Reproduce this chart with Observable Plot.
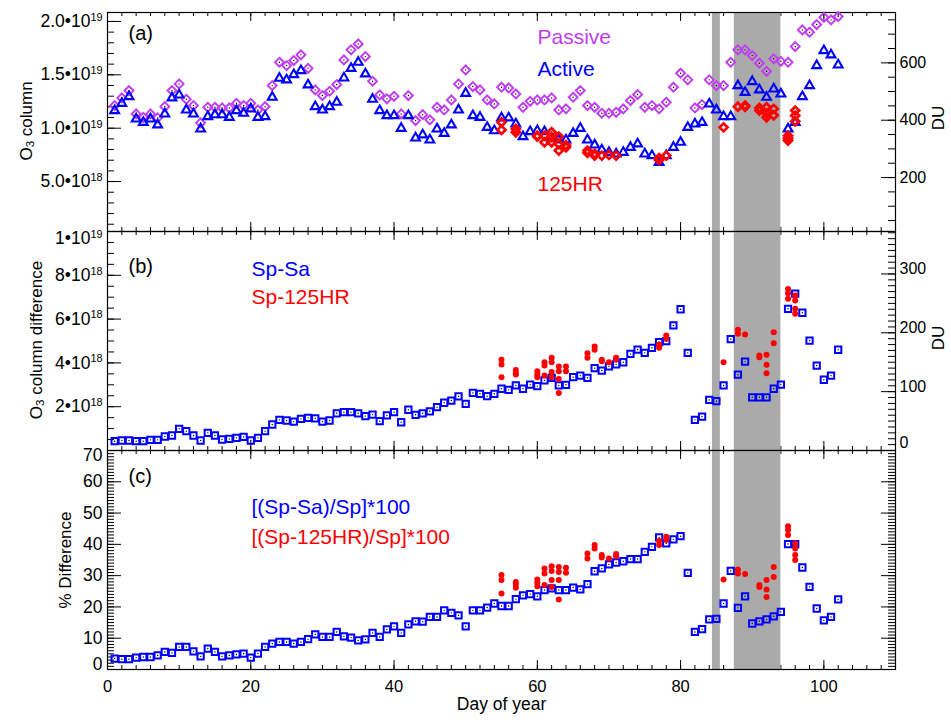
<!DOCTYPE html>
<html><head><meta charset="utf-8">
<script src="https://cdn.jsdelivr.net/npm/d3@7"></script>
<script src="https://cdn.jsdelivr.net/npm/@observablehq/plot@0.6"></script>
<style>
html,body{margin:0;padding:0;background:#fff;}
#chart{position:relative;width:951px;height:723px;overflow:hidden;background:#fff;}
#chart > svg{position:absolute;left:0;}
.ytitle{position:absolute;white-space:nowrap;font-family:'Liberation Sans',Arial,Helvetica,sans-serif;
  font-size:17px;line-height:1;color:#000;transform:translate(-50%,-50%) rotate(-90deg);transform-origin:50% 50%;}
.ytitle sub{font-size:68%;vertical-align:-0.22em;line-height:0;}
</style></head><body><div id="chart"></div>
<script>
// ---------- data ----------
const days = d3.range(1, 103); // day of year 1..102

// (a) O3 column, units of 1e19 molecules/cm2
const activeVals = [1.165,1.233,1.296,1.087,1.055,1.087,1.031,1.134,1.284,1.312,
 1.171,1.134,0.993,1.109,1.127,1.127,1.102,1.165,1.140,1.181,
 1.102,1.109,1.290,1.468,1.453,1.502,1.540,1.406,1.202,1.171,
 1.202,1.243,1.471,1.561,1.618,1.509,1.271,1.165,1.118,1.118,
 0.999,1.118,0.909,0.938,0.890,0.993,0.952,1.031,1.171,1.327,
 1.118,1.102,1.008,0.977,1.097,1.097,1.040,0.921,0.968,0.977,
 0.968,0.909,0.890,0.890,0.952,0.999,0.890,0.843,0.797,0.774,
 0.759,0.774,0.821,0.853,0.759,0.743,0.680,0.743,0.821,0.868,
 1.008,1.040,1.055,1.227,1.171,1.109,1.109,1.399,1.336,1.437,
 1.359,1.290,1.368,1.321,0.993,1.055,1.296,1.399,1.587,1.727,
 1.687,1.593];
const passiveVals = [1.212,1.284,1.352,1.134,1.102,1.134,1.097,1.202,1.352,1.415,
 1.271,1.212,1.050,1.196,1.196,1.190,1.190,1.233,1.212,1.233,
 1.171,1.202,1.399,1.618,1.587,1.634,1.687,1.561,1.359,1.306,
 1.346,1.409,1.640,1.734,1.790,1.671,1.440,1.312,1.275,1.299,
 1.134,1.306,1.071,1.127,1.078,1.196,1.171,1.265,1.415,1.546,
 1.390,1.359,1.265,1.227,1.384,1.377,1.321,1.196,1.252,1.265,
 1.265,1.284,1.171,1.181,1.290,1.352,1.212,1.196,1.140,1.140,
 1.149,1.181,1.259,1.315,1.196,1.212,1.181,1.243,1.384,1.515,
 1.453,1.190,1.221,1.453,1.399,1.399,1.618,1.734,1.734,1.680,
 1.609,1.533,1.650,1.627,1.618,1.765,1.921,1.899,1.971,2.039,
 2.015,2.046];
const hrDays = [55,55,57,57,60,60,61,61,62,62,62,63,63,63,64,64,67,67,68,68,69,70,71,77,77,78,
 86,88,89,89,91,91,92,92,92,93,93,95,95,95,96,96,96];
const hrVals = [1.055,0.984,0.993,0.962,0.921,0.930,0.868,0.930,0.962,0.915,0.868,0.921,0.852,0.790,0.821,0.840,
 0.790,0.770,0.743,0.760,0.743,0.750,0.743,0.703,0.720,0.743,
 1.008,1.202,1.212,1.200,1.190,1.165,1.196,1.140,1.102,1.181,1.121,0.930,0.884,0.905,1.165,1.118,1.065];

// (b) O3 column difference, units of 1e18
const spSaVals = [0.425,0.457,0.457,0.425,0.425,0.487,0.487,0.639,0.685,0.990,
 0.883,0.685,0.457,0.807,0.685,0.502,0.530,0.578,0.620,0.457,
 0.578,0.883,1.187,1.400,1.370,1.320,1.446,1.490,1.470,1.320,
 1.370,1.700,1.750,1.750,1.700,1.570,1.640,1.340,1.600,1.750,
 1.290,1.860,1.630,1.700,1.790,1.980,2.180,2.280,2.470,2.130,
 2.630,2.590,2.480,2.590,2.820,2.770,2.970,2.820,3.010,2.940,
 3.200,3.320,2.970,3.000,3.350,3.420,3.320,3.760,3.650,3.840,
 3.930,4.030,4.410,4.610,4.460,4.690,4.950,4.990,5.710,6.450,
 4.460,1.400,1.550,2.310,2.250,2.970,5.090,3.460,4.060,2.430,
 2.430,2.430,2.820,3.010,6.470,7.160,6.290,5.020,3.880,3.230,
 3.420,4.600];
const spHrDays = [55,55,55,57,57,57,60,60,60,61,61,61,62,62,62,62,63,63,63,63,64,64,67,67,68,68,69,69,70,71,71,77,77,78,78,
 86,88,88,89,91,91,92,92,92,93,93,95,95,95,96,96,96,96];
const spHrVals = [4.14,3.93,3.35,3.68,3.53,3.47,3.62,3.47,3.35,4.03,3.88,3.42,4.23,4.03,3.58,3.35,3.84,3.62,3.27,2.62,3.84,3.62,
 4.44,4.23,4.75,4.60,4.14,4.08,4.03,4.23,4.15,4.84,4.69,5.25,5.10,
 4.03,5.51,5.33,5.30,4.34,4.26,4.37,3.91,3.53,5.40,4.90,7.38,7.18,6.93,7.08,6.85,6.47,6.24];

// (c) % difference
const pctSaVals = [3.5,3.3,3.3,3.8,4.0,4.0,4.5,5.6,5.3,7.2,
 7.2,5.8,4.2,6.7,5.6,4.2,4.5,4.8,5.1,3.8,
 5.1,7.2,8.3,8.8,8.8,8.3,8.8,9.7,11.2,10.4,
 10.4,12.0,10.6,10.2,9.3,9.6,11.7,10.4,12.8,13.8,
 11.7,14.4,15.4,15.3,16.8,16.8,18.9,18.1,17.3,13.8,
 18.9,18.9,19.8,21.1,20.3,20.3,22.5,23.7,24.1,23.4,
 25.4,25.9,25.4,25.4,26.2,25.6,27.3,31.4,32.3,33.6,
 34.2,34.6,35.3,35.3,37.6,39.2,42.2,40.3,41.6,42.6,
 30.9,12.0,12.9,16.0,16.2,21.1,31.5,19.7,23.4,14.7,
 15.4,16.0,17.0,18.4,40.1,40.1,32.6,26.4,19.5,15.7,
 16.8,22.4];
const pctHrDays = spHrDays;
const pctHrVals = [30.2,28.6,24.3,28.0,27.0,26.1,28.8,27.7,26.6,32.3,30.7,27.0,33.0,31.5,28.6,26.4,32.8,31.2,28.6,22.4,32.5,30.9,
 37.1,35.5,39.8,38.7,36.6,35.8,35.5,36.9,36.2,41.1,39.8,42.4,41.4,
 28.8,32.0,30.7,30.5,27.0,26.4,28.6,25.6,23.2,32.8,29.6,45.8,44.6,43.0,40.3,38.7,36.6,35.0];

// shaded periods (day of year)
const bandStart = [84.45, 87.5];
const bandEnd = [85.55, 94.0];

// axis ticks and labels
const xTickVals = [0, 20, 40, 60, 80, 100];
const aTickVals = [0.5, 1.0, 1.5, 2.0];
const aTickLabels = ["5.0•10^18", "1.0•10^19", "1.5•10^19", "2.0•10^19"];
const bTickVals = [2, 4, 6, 8, 10];
const bTickLabels = ["2•10^18", "4•10^18", "6•10^18", "8•10^18", "1•10^19"];
const cTickVals = [0, 10, 20, 30, 40, 50, 60, 70];
const duTicksA = [200, 400, 600];
const duTicksB = [0, 100, 200, 300];

// ---------- tables ----------
const tableA = days.map((d, i) => ({day: d, active: activeVals[i], passive: passiveVals[i]}));
const tableHR = hrDays.map((d, i) => ({day: d, v: hrVals[i]}));
const tableB = days.map((d, i) => ({day: d, v: spSaVals[i]}));
const tableBHR = spHrDays.map((d, i) => ({day: d, v: spHrVals[i]}));
const tableC = days.map((d, i) => ({day: d, v: pctSaVals[i]}));
const tableCHR = pctHrDays.map((d, i) => ({day: d, v: pctHrVals[i]}));
const bands = bandStart.map((s, i) => ({start: s, end: bandEnd[i]}));

// ---------- layout ----------
const chart = document.getElementById("chart");
const FONT = "'Liberation Sans', Arial, Helvetica, sans-serif";
const W = 951, ML = 107, MR = 56, PW = W - ML - MR;
const PH = 219;
const BLUE = "#0000ff", PURPLE = "#c040f0", RED = "#ff0000", GREY = "#aaaaaa";
const DU_A = 2.687e16 / 1e19, DU_B = 2.687e16 / 1e18;
const xMinor = d3.range(2, 110, 2);
const style = {fontFamily: FONT, fontSize: "16.5px", color: "#000", background: "transparent", overflow: "visible"};
const LFS = 17.5, RFS = 16;

function frameTicks(yMajL, yMinL, yMajR, yMinR) {
  const k = {stroke: "#000", strokeWidth: 1};
  return [
    Plot.ruleX(xMinor, {x: d => d, insetBottom: PH - 4, ...k}),
    Plot.ruleX(xMinor, {x: d => d, insetTop: PH - 4, ...k}),
    Plot.ruleX(xTickVals, {x: d => d, insetBottom: PH - 9, ...k}),
    Plot.ruleX(xTickVals, {x: d => d, insetTop: PH - 9, ...k}),
    Plot.ruleY(yMinL, {y: d => d, insetRight: PW - 7, ...k}),
    Plot.ruleY(yMajL, {y: d => d, insetRight: PW - 14, ...k}),
    Plot.ruleY(yMinR, {y: d => d, insetLeft: PW - 7, ...k}),
    Plot.ruleY(yMajR, {y: d => d, insetLeft: PW - 14, ...k})
  ];
}
function label(txt, o) {
  return Plot.text([txt], {text: d => d, lineAnchor: "middle", ...o});
}
function leftAxis(vals, fmt, o = {}) {
  return Plot.axisY(vals, {anchor: "left", tickSize: 0, tickPadding: 5, label: null, fontSize: LFS, tickFormat: fmt, ...o});
}
function rightAxis(vals, fmt, o = {}) {
  return Plot.axisY(vals, {anchor: "right", tickSize: 0, tickPadding: 4, label: null, fontSize: RFS, tickFormat: fmt, ...o});
}

// superscripts "^NN" in the (right-aligned) left-axis tick labels, laid out explicitly
function richText(svg) {
  svg.querySelectorAll("text").forEach(t => {
    const s = t.textContent;
    if (!/\^\d/.test(s)) return;
    const parts = s.split(/(\^\d+)/).filter(p => p.length);
    while (t.firstChild) t.removeChild(t.firstChild);
    const spans = [];
    let shift = 0;
    for (const p of parts) {
      const ts = document.createElementNS("http://www.w3.org/2000/svg", "tspan");
      let target = 0, scale = 1, str = p;
      if (p[0] === "^") { target = -0.36; scale = 0.62; str = p.slice(1); }
      if (scale !== 1) ts.setAttribute("font-size", (scale * 100) + "%");
      const dyBase = target - shift;
      if (dyBase !== 0) ts.setAttribute("dy", (dyBase / scale) + "em");
      shift = target;
      ts.textContent = str;
      t.appendChild(ts);
      spans.push(ts);
    }
    t.setAttribute("text-anchor", "start");
    const widths = spans.map(ts => ts.getComputedTextLength());
    const total = d3.sum(widths);
    const x0 = parseFloat(t.getAttribute("x")) || 0;
    let cx = x0 - total;
    spans.forEach((ts, i) => { ts.setAttribute("x", cx); cx += widths[i]; });
  });
}
function place(svg, top) {
  svg.style.top = top + "px";
  chart.appendChild(svg);
  richText(svg);
}
// rotated axis titles (HTML text, centred on the given point)
function yTitle(html, cx, cy) {
  const d = document.createElement("div");
  d.className = "ytitle";
  d.innerHTML = html;
  d.style.left = cx + "px";
  d.style.top = cy + "px";
  chart.appendChild(d);
}

// ---------- panel (a) ----------
const plotA = Plot.plot({
  width: W, height: 12 + PH, marginLeft: ML, marginRight: MR, marginTop: 12, marginBottom: 0,
  style,
  x: {domain: [0, 110], axis: null},
  y: {domain: [0.032, 2.084]},
  marks: [
    ...frameTicks(aTickVals, d3.range(1, 21).map(i => i / 10),
      duTicksA.map(u => u * DU_A), d3.range(50, 800, 50).map(u => u * DU_A)),
    Plot.rect(bands, {x1: "start", x2: "end", fill: GREY}),
    Plot.frame({stroke: "#000", strokeWidth: 1.2}),
    Plot.dot(tableA, {x: "day", y: "passive", symbol: "diamond2", r: 4, stroke: PURPLE, strokeWidth: 2, fill: "none"}),
    Plot.dot(tableA, {x: "day", y: "passive", r: 0.7, fill: "#000", stroke: null}),
    Plot.dot(tableA, {x: "day", y: "active", symbol: "triangle2", r: 4.2, stroke: BLUE, strokeWidth: 2.1, fill: "none"}),
    Plot.dot(tableHR, {x: "day", y: "v", symbol: "diamond2", r: 3.6, stroke: RED, strokeWidth: 2.7, fill: "none"}),
    leftAxis(aTickVals, d => aTickLabels[aTickVals.indexOf(d)]),
    rightAxis(duTicksA.map(u => u * DU_A), d => String(Math.round(d / DU_A))),
    label("(a)", {frameAnchor: "top-left", dx: 21, dy: 21, textAnchor: "start", fontSize: 20}),
    label("Passive", {frameAnchor: "top-left", dx: 430, dy: 24.3, textAnchor: "start", fontSize: 21, fill: PURPLE}),
    label("Active", {frameAnchor: "top-left", dx: 430, dy: 56.3, textAnchor: "start", fontSize: 21, fill: BLUE}),
    label("125HR", {frameAnchor: "top-left", dx: 430, dy: 172, textAnchor: "start", fontSize: 21, fill: RED})
  ]
});
place(plotA, 0);

// ---------- panel (b) ----------
const plotB = Plot.plot({
  width: W, height: PH, marginLeft: ML, marginRight: MR, marginTop: 0, marginBottom: 0,
  style,
  x: {domain: [0, 110], axis: null},
  y: {domain: [0, 10]},
  marks: [
    ...frameTicks(bTickVals, d3.range(1, 21).map(i => i / 2),
      duTicksB.map(u => u * DU_B), d3.range(10, 380, 10).map(u => u * DU_B)),
    Plot.rect(bands, {x1: "start", x2: "end", fill: GREY}),
    Plot.frame({stroke: "#000", strokeWidth: 1.2}),
    Plot.dot(tableB, {x: "day", y: "v", symbol: "square2", r: 4, stroke: BLUE, strokeWidth: 2, fill: "none"}),
    Plot.dot(tableB, {x: "day", y: "v", r: 0.7, fill: "#000", stroke: null}),
    Plot.dot(tableBHR, {x: "day", y: "v", r: 3, fill: RED, stroke: null}),
    leftAxis(bTickVals.slice(0, -1), d => bTickLabels[bTickVals.indexOf(d)]),
    leftAxis(bTickVals.slice(-1), d => bTickLabels[bTickVals.indexOf(d)], {dy: 7}),
    rightAxis(duTicksB.slice(1).map(u => u * DU_B), d => String(Math.round(d / DU_B)), {dy: -5}),
    rightAxis(duTicksB.slice(0, 1).map(u => u * DU_B), d => String(Math.round(d / DU_B)), {dy: -8}),
    label("(b)", {frameAnchor: "top-left", dx: 21, dy: 35, textAnchor: "start", fontSize: 20}),
    label("Sp-Sa", {frameAnchor: "top-left", dx: 144, dy: 37.3, textAnchor: "start", fontSize: 21, fill: BLUE}),
    label("Sp-125HR", {frameAnchor: "top-left", dx: 144, dy: 65.6, textAnchor: "start", fontSize: 21, fill: RED})
  ]
});
place(plotB, 12 + PH);

// ---------- panel (c) ----------
const plotC = Plot.plot({
  width: W, height: PH + 54, marginLeft: ML, marginRight: MR, marginTop: 0, marginBottom: 54,
  style,
  x: {domain: [0, 110]},
  y: {domain: [0, 70]},
  marks: [
    ...frameTicks(cTickVals, d3.range(1, 70), cTickVals, d3.range(1, 70)),
    Plot.rect(bands, {x1: "start", x2: "end", fill: GREY}),
    Plot.frame({stroke: "#000", strokeWidth: 1.2}),
    Plot.dot(tableC, {x: "day", y: "v", symbol: "square2", r: 4, stroke: BLUE, strokeWidth: 2, fill: "none"}),
    Plot.dot(tableC, {x: "day", y: "v", r: 0.7, fill: "#000", stroke: null}),
    Plot.dot(tableCHR, {x: "day", y: "v", r: 3, fill: RED, stroke: null}),
    leftAxis(cTickVals.slice(1, -1), d => String(d)),
    leftAxis(cTickVals.slice(-1), d => String(d), {dy: 5}),
    leftAxis(cTickVals.slice(0, 1), d => String(d), {dy: -5.5}),
    Plot.axisX(xTickVals, {anchor: "bottom", tickSize: 0, tickPadding: 11, label: null, fontSize: 16.5, tickFormat: d => String(d)}),
    label("(c)", {frameAnchor: "top-left", dx: 21, dy: 26, textAnchor: "start", fontSize: 20}),
    label("[(Sp-Sa)/Sp]*100", {frameAnchor: "top-left", dx: 144, dy: 56.6, textAnchor: "start", fontSize: 21, fill: BLUE}),
    label("[(Sp-125HR)/Sp]*100", {frameAnchor: "top-left", dx: 144, dy: 86.6, textAnchor: "start", fontSize: 21, fill: RED}),
    label("Day of year", {frameAnchor: "bottom", dy: 35, fontSize: 17.5})
  ]
});
place(plotC, 12 + 2 * PH);

// axis titles
yTitle("O<sub>3</sub> column", 26, 121);
yTitle("O<sub>3</sub> column difference", 36, 340);
yTitle("% Difference", 64.5, 559.5);
yTitle("DU", 938, 118);
yTitle("DU", 938, 338);
</script></body></html>
